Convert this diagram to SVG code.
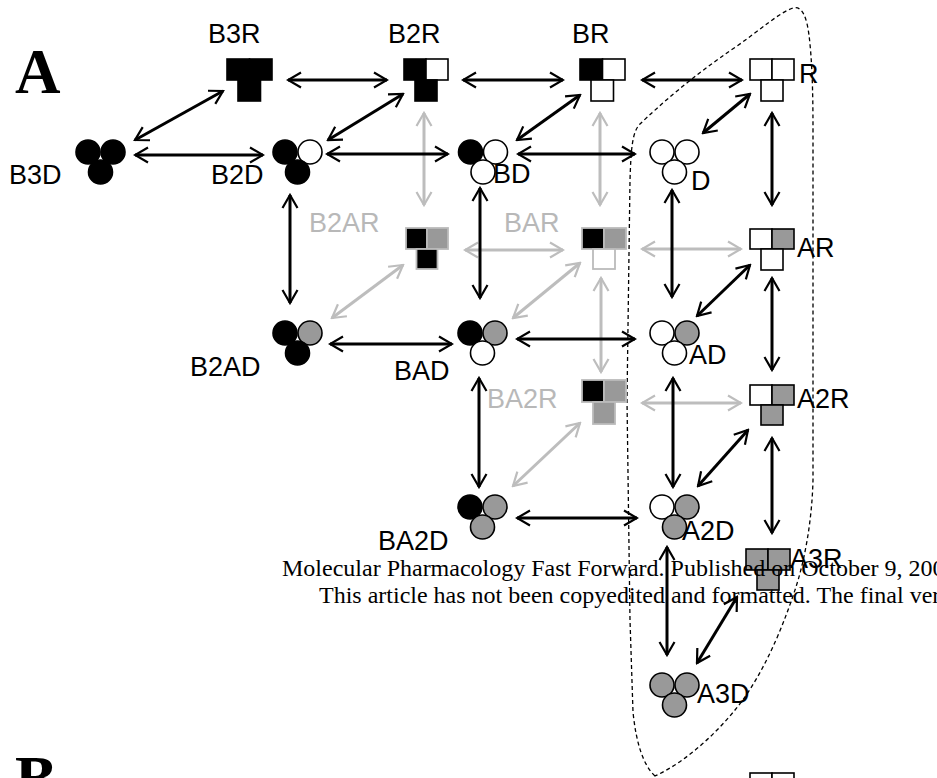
<svg xmlns="http://www.w3.org/2000/svg" width="937" height="778" viewBox="0 0 937 778">
<defs>
<marker id="ah" viewBox="0 0 16 18" refX="14" refY="9" markerWidth="16" markerHeight="18" markerUnits="userSpaceOnUse" orient="auto-start-reverse">
<path d="M1,1.5 L14,9 L1,16.5" fill="none" stroke="#000" stroke-width="2.2"/>
</marker>
<marker id="ahg" viewBox="0 0 16 18" refX="14" refY="9" markerWidth="16" markerHeight="18" markerUnits="userSpaceOnUse" orient="auto-start-reverse">
<path d="M1,1.5 L14,9 L1,16.5" fill="none" stroke="#bdbdbd" stroke-width="2.2"/>
</marker>
</defs>
<style>
.lbl{font-family:"Liberation Sans",Arial,sans-serif;font-size:27px;fill:#000}
.gl{fill:#b8b8b8}
.k{fill:#000}
.g{fill:#999}
.w{fill:#fff}
.sq rect,.cl circle{stroke:#000;stroke-width:1.6}
.gh rect{stroke:#bbb;stroke-width:1.8}
.ar line{stroke:#000;stroke-width:3;marker-start:url(#ah);marker-end:url(#ah)}
.ga line{stroke:#bdbdbd;stroke-width:3;marker-start:url(#ahg);marker-end:url(#ahg)}
.wm{font-family:"Liberation Serif","Times New Roman",serif;font-size:24px;fill:#000}
.pn{font-family:"Liberation Serif","Times New Roman",serif;font-size:63px;font-weight:bold;fill:#000}
</style>
<rect width="937" height="778" fill="#fff"/>
<text class="pn" x="15" y="93">A</text>
<text class="pn" x="15" y="800">B</text>

<path id="boundary" d="M655,776 C643,765 636,742 633,712 L630,620 L627,400 L630,180 C631,150 632,132 640,124 C660,105 690,78 737,46 C760,30 780,12 793,8 C803,5 807,20 809,35 C812,60 813,90 813,130 L813,480 C812,520 805,560 795,590 C785,620 770,660 745,697 C725,725 690,760 655,776 Z" fill="none" stroke="#000" stroke-width="1.3" stroke-dasharray="4,3"/>

<g id="connectors">
<g class="ga">
<line x1="424" y1="113" x2="424" y2="205"/>
<line x1="600" y1="113" x2="600" y2="205"/>
<line x1="465" y1="250" x2="563" y2="250"/>
<line x1="642" y1="249" x2="741" y2="249"/>
<line x1="332" y1="318" x2="403" y2="265"/>
<line x1="513" y1="318" x2="580" y2="263"/>
<line x1="601" y1="278" x2="601" y2="372"/>
<line x1="642" y1="403" x2="741" y2="403"/>
<line x1="513" y1="486" x2="580" y2="423"/>
</g>
<g class="ar">
<line x1="288" y1="80" x2="387" y2="80"/>
<line x1="463" y1="80" x2="563" y2="80"/>
<line x1="642" y1="80" x2="742" y2="80"/>
<line x1="135" y1="140" x2="223" y2="91"/>
<line x1="135" y1="155" x2="263" y2="155"/>
<line x1="328" y1="140" x2="403" y2="94"/>
<line x1="327" y1="154" x2="448" y2="154"/>
<line x1="517" y1="140" x2="580" y2="95"/>
<line x1="518" y1="154" x2="635" y2="154"/>
<line x1="703" y1="133" x2="750" y2="94"/>
<line x1="772" y1="113" x2="772" y2="205"/>
<line x1="290" y1="195" x2="290" y2="303"/>
<line x1="480" y1="188" x2="480" y2="298"/>
<line x1="672" y1="190" x2="672" y2="297"/>
<line x1="697" y1="316" x2="750" y2="265"/>
<line x1="772" y1="278" x2="772" y2="370"/>
<line x1="330" y1="344" x2="452" y2="344"/>
<line x1="517" y1="339" x2="635" y2="339"/>
<line x1="479" y1="378" x2="479" y2="487"/>
<line x1="673" y1="378" x2="673" y2="487"/>
<line x1="698" y1="486" x2="748" y2="430"/>
<line x1="772" y1="438" x2="772" y2="533"/>
<line x1="517" y1="518" x2="637" y2="518"/>
<line x1="667" y1="547" x2="667" y2="655"/>
<line x1="697" y1="663" x2="737" y2="597"/>
</g>
</g>

<g id="B3R" class="sq"><rect class="k" x="227" y="59" width="22.5" height="21"/><rect class="k" x="249.5" y="59" width="22.5" height="21"/><rect class="k" x="238" y="80" width="22.5" height="21"/><text class="lbl" x="208" y="43">B3R</text></g>
<g id="B2R" class="sq"><rect class="k" x="404" y="59" width="22" height="21"/><rect class="w" x="426" y="59" width="22" height="21"/><rect class="k" x="415" y="80" width="22" height="21"/><text class="lbl" x="388" y="43">B2R</text></g>
<g id="BR" class="sq"><rect class="k" x="580" y="59" width="22.5" height="21"/><rect class="w" x="602.5" y="59" width="22.5" height="21"/><rect class="w" x="591" y="80" width="22.5" height="21"/><text class="lbl" x="572" y="43">BR</text></g>
<g id="R" class="sq"><rect class="w" x="750" y="59" width="22" height="21"/><rect class="w" x="772" y="59" width="22" height="21"/><rect class="w" x="761" y="80" width="22" height="21"/><text class="lbl" x="799" y="83">R</text></g>

<g id="B2AR" class="gh"><rect class="k" x="406" y="228" width="21" height="21"/><rect class="g" x="427" y="228" width="21" height="21"/><rect class="k" x="416.5" y="249" width="21" height="20"/><text class="lbl gl" x="309" y="232">B2AR</text></g>
<g id="BAR" class="gh"><rect class="k" x="582" y="228" width="22" height="21"/><rect class="g" x="604" y="228" width="22" height="21"/><rect class="w" x="593" y="249" width="22" height="20"/><text class="lbl gl" x="504" y="232">BAR</text></g>
<g id="AR" class="sq"><rect class="w" x="750" y="229" width="22" height="20"/><rect class="g" x="772" y="229" width="22" height="20"/><rect class="w" x="761" y="249" width="22" height="21"/><text class="lbl" x="797" y="257">AR</text></g>

<g id="BA2R" class="gh"><rect class="k" x="582" y="380" width="22" height="22"/><rect class="g" x="604" y="380" width="22" height="22"/><rect class="g" x="593" y="402" width="22" height="22"/><text class="lbl gl" x="487" y="408">BA2R</text></g>
<g id="A2R" class="sq"><rect class="w" x="750" y="385" width="22" height="20"/><rect class="g" x="772" y="385" width="22" height="20"/><rect class="g" x="761" y="405" width="22" height="20"/><text class="lbl" x="797" y="408">A2R</text></g>
<g id="A3R" class="sq"><rect class="g" x="746" y="549" width="22" height="21"/><rect class="g" x="768" y="549" width="22" height="21"/><rect class="g" x="757" y="570" width="22" height="20"/><text class="lbl" x="790" y="568">A3R</text></g>

<g id="B3D" class="cl"><circle class="k" cx="88" cy="152" r="12"/><circle class="k" cx="113" cy="152" r="12"/><circle class="k" cx="100.5" cy="172" r="12"/><text class="lbl" x="9" y="184">B3D</text></g>
<g id="B2D" class="cl"><circle class="k" cx="285" cy="152" r="12"/><circle class="w" cx="310" cy="152" r="12"/><circle class="k" cx="297.5" cy="172" r="12"/><text class="lbl" x="211" y="184">B2D</text></g>
<g id="BD" class="cl"><circle class="k" cx="470.5" cy="152" r="12"/><circle class="w" cx="495.5" cy="152" r="12"/><circle class="w" cx="483" cy="172" r="12"/><text class="lbl" x="493" y="183">BD</text></g>
<g id="D" class="cl"><circle class="w" cx="662" cy="152" r="12"/><circle class="w" cx="687" cy="152" r="12"/><circle class="w" cx="674.5" cy="172" r="12"/><text class="lbl" x="691" y="190">D</text></g>
<g id="B2AD" class="cl"><circle class="k" cx="285" cy="333" r="12"/><circle class="g" cx="310" cy="333" r="12"/><circle class="k" cx="297.5" cy="353" r="12"/><text class="lbl" x="190" y="376">B2AD</text></g>
<g id="BAD" class="cl"><circle class="k" cx="470" cy="333" r="12"/><circle class="g" cx="495" cy="333" r="12"/><circle class="w" cx="482.5" cy="353" r="12"/><text class="lbl" x="394" y="380">BAD</text></g>
<g id="AD" class="cl"><circle class="w" cx="662" cy="333" r="12"/><circle class="g" cx="687" cy="333" r="12"/><circle class="w" cx="674.5" cy="353" r="12"/><text class="lbl" x="689" y="364">AD</text></g>
<g id="BA2D" class="cl"><circle class="k" cx="470" cy="507" r="12"/><circle class="g" cx="495" cy="507" r="12"/><circle class="g" cx="482.5" cy="527" r="12"/><text class="lbl" x="378" y="550">BA2D</text></g>
<g id="A2D" class="cl"><circle class="w" cx="662" cy="507" r="12"/><circle class="g" cx="687" cy="507" r="12"/><circle class="g" cx="674.5" cy="527" r="12"/><text class="lbl" x="682" y="540">A2D</text></g>
<g id="A3D" class="cl"><circle class="g" cx="662" cy="685" r="12"/><circle class="g" cx="687" cy="685" r="12"/><circle class="g" cx="674.5" cy="705" r="12"/><text class="lbl" x="697" y="703">A3D</text></g>

<g id="R_B" class="sq"><rect class="w" x="750" y="773" width="22" height="21"/><rect class="w" x="772" y="773" width="22" height="21"/><text class="lbl gl" x="800" y="797">R</text></g>

<text class="wm" x="282" y="576">Molecular Pharmacology Fast Forward. Published on October 9, 2007</text>
<text class="wm" x="319" y="603">This article has not been copyedited and formatted. The final version</text>
</svg>
